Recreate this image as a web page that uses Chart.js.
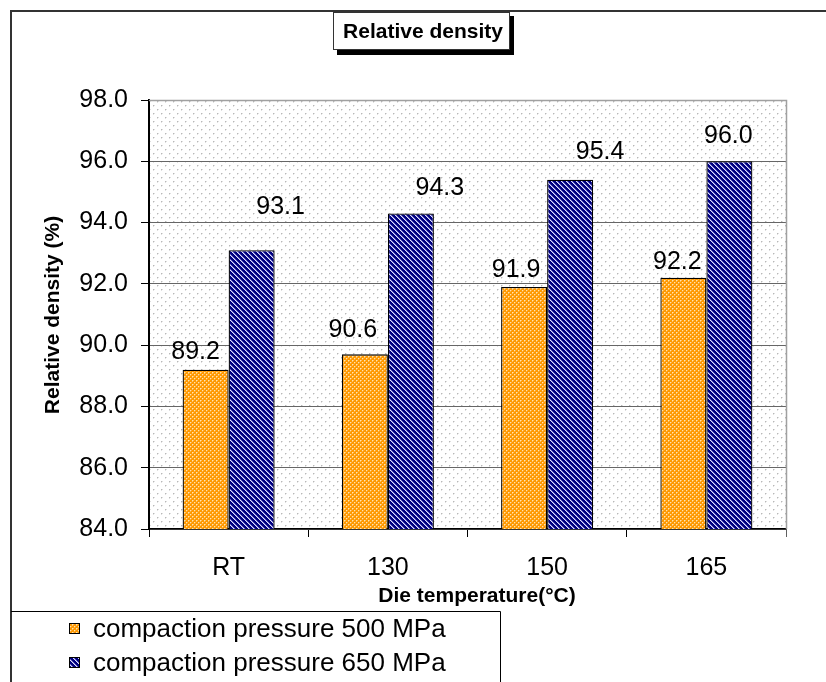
<!DOCTYPE html>
<html><head><meta charset="utf-8">
<script src="https://cdn.jsdelivr.net/npm/chart.js@4/dist/chart.umd.min.js"></script>
<style>html,body{margin:0;padding:0;background:#fff;overflow:hidden}#wrap{width:826px;height:682px;position:relative}</style>
</head><body><div id="wrap"><canvas id="c" width="826" height="682"></canvas></div>
<script>
// ---- data ----
const categories = ['RT', '130', '150', '165'];
// bar heights as drawn in the picture
const series500 = [89.2, 89.7, 91.9, 92.2];
const series650 = [93.1, 94.3, 95.4, 96.0];
// value labels as printed in the picture
const labels500 = ['89.2', '90.6', '91.9', '92.2'];
const labels650 = ['93.1', '94.3', '95.4', '96.0'];
const seriesNames = ['compaction pressure 500 MPa', 'compaction pressure 650 MPa'];
const yMin = 84, yMax = 98, yStep = 2;
const chartTitle = 'Relative density';
const xTitle = 'Die temperature(°C)';
const yTitle = 'Relative density (%)';

// ---- styling: label nudges (dx, dy from bar top centre) ----
const labelNudge = [
  [[-10, -18], [-12, -24], [-8, -17], [-6, -16]],
  [[29, -43], [29, -25], [30, -28], [-1, -25]]
];
const labelTexts = [labels500, labels650];
const FONT = '"Liberation Sans", Arial, sans-serif';

function makePattern(w, h, base, pix) {
  const c = document.createElement('canvas'); c.width = w; c.height = h;
  const g = c.getContext('2d');
  g.fillStyle = base; g.fillRect(0, 0, w, h);
  pix.forEach(p => { g.fillStyle = p[2]; g.fillRect(p[0], p[1], 1, 1); });
  return g.createPattern(c, 'repeat');
}
const orangePat = makePattern(4, 4, '#FF9900', [
  [0, 0, '#FFE4B0'], [2, 2, '#FFE4B0'], [1, 0, '#FFC060'], [0, 1, '#FFC060'], [3, 2, '#FFB040'], [2, 3, '#FFB040']
]);
const bluePix = [];
for (let y = 0; y < 5; y++) for (let x = 0; x < 5; x++) {
  const d = ((x - y) % 5 + 5) % 5;
  if (d === 0) bluePix.push([x, y, '#E0E0FF']);
  else if (d === 1) bluePix.push([x, y, '#7070C8']);
}
const bluePat = makePattern(5, 5, '#000080', bluePix);
const dotPat = makePattern(8, 8, '#FFFFFF', [[1, 1, '#B8B8B8'], [5, 5, '#B8B8B8'], [2, 1, '#E0E0E0'], [6, 5, '#E0E0E0'], [1, 2, '#E0E0E0'], [5, 6, '#E0E0E0']]);
const patterns = [orangePat, bluePat];

const deco = {
  id: 'deco',
  beforeDraw(chart) {
    const g = chart.ctx, a = chart.chartArea;
    g.save();
    g.fillStyle = '#fff'; g.fillRect(0, 0, chart.width, chart.height);
    g.fillStyle = dotPat; g.fillRect(a.left, a.top, a.right - a.left, a.bottom - a.top);
    g.restore();
  },
  afterDatasetsDraw(chart) {
    const g = chart.ctx;
    g.save();
    g.font = '25px ' + FONT; g.fillStyle = '#000';
    g.textAlign = 'center'; g.textBaseline = 'middle';
    chart.data.datasets.forEach((ds, i) => {
      chart.getDatasetMeta(i).data.forEach((el, j) => {
        const n = labelNudge[i][j];
        g.fillText(labelTexts[i][j], el.x + n[0], el.y + n[1]);
      });
    });
    g.restore();
  },
  afterDraw(chart) {
    const g = chart.ctx, a = chart.chartArea;
    g.save();
    g.strokeStyle = '#A0A0A0'; g.lineWidth = 1.5;
    g.beginPath(); g.moveTo(a.left, a.top + 0.5); g.lineTo(a.right + 0.5, a.top + 0.5); g.lineTo(a.right + 0.5, a.bottom); g.stroke();
    g.strokeStyle = '#606060'; g.lineWidth = 1;
    g.beginPath(); g.moveTo(a.right + 0.5, a.bottom); g.lineTo(a.right + 0.5, a.bottom + 8); g.stroke();
    g.strokeStyle = '#333'; g.lineWidth = 2;
    g.beginPath(); g.moveTo(11, 682); g.lineTo(11, 11); g.lineTo(826, 11); g.stroke();
    g.fillStyle = '#000';
    g.fillRect(337, 50, 177, 5); g.fillRect(510, 16, 4, 39);
    g.fillStyle = '#fff'; g.fillRect(333, 12, 177, 38);
    g.strokeStyle = '#333'; g.lineWidth = 1;
    g.strokeRect(333.5, 12.5, 176, 37);
    g.fillStyle = '#000'; g.font = 'bold 21px ' + FONT;
    g.textAlign = 'center'; g.textBaseline = 'middle';
    g.fillText(chartTitle, 423, 32);
    g.fillText(xTitle, 477, 596);
    g.save(); g.translate(53, 315); g.rotate(-Math.PI / 2); g.fillText(yTitle, 0, 0); g.restore();
    g.strokeStyle = '#000'; g.lineWidth = 1;
    g.beginPath(); g.moveTo(11, 611.5); g.lineTo(500.5, 611.5); g.lineTo(500.5, 682); g.stroke();
    const rows = [629, 663];
    g.font = '26px ' + FONT; g.textAlign = 'left';
    chart.data.datasets.forEach((ds, i) => {
      const cy = rows[i];
      g.fillStyle = patterns[i]; g.fillRect(69, cy - 6, 11, 11);
      g.strokeStyle = '#000'; g.strokeRect(69.5, cy - 5.5, 10, 10);
      g.fillStyle = '#000'; g.fillText(ds.label, 93, cy + 1);
    });
    g.restore();
  }
};

new Chart(document.getElementById('c').getContext('2d'), {
  type: 'bar',
  data: {
    labels: categories,
    datasets: [
      { label: seriesNames[0], data: series500, backgroundColor: orangePat, borderColor: '#000', borderWidth: 1.3, borderSkipped: false },
      { label: seriesNames[1], data: series650, backgroundColor: bluePat, borderColor: '#000', borderWidth: 1.3, borderSkipped: false }
    ]
  },
  options: {
    responsive: false, animation: false, devicePixelRatio: 1,
    layout: { padding: { left: 0, top: 100, right: 40, bottom: 0 } },
    datasets: { bar: { barPercentage: 1, categoryPercentage: 0.578 } },
    plugins: { legend: { display: false }, title: { display: false }, tooltip: { enabled: false } },
    scales: {
      x: {
        grid: { offset: true, drawOnChartArea: false, drawTicks: true, tickLength: 8, color: '#000', tickColor: '#000' },
        border: { color: '#000', width: 1.5 },
        ticks: { font: { family: FONT, size: 25 }, color: '#000', padding: 16 },
        afterFit(s) { s.height = 682 - 529; }
      },
      y: {
        min: yMin, max: yMax,
        grid: { color: '#666', lineWidth: 1, tickColor: '#000', tickLength: 8, drawTicks: true },
        border: { color: '#000', width: 2 },
        ticks: { stepSize: yStep, callback: v => v.toFixed(1), font: { family: FONT, size: 25 }, color: '#000', padding: 13 },
        afterFit(s) { s.width = 149; }
      }
    }
  },
  plugins: [deco]
});
</script>
</body></html>
